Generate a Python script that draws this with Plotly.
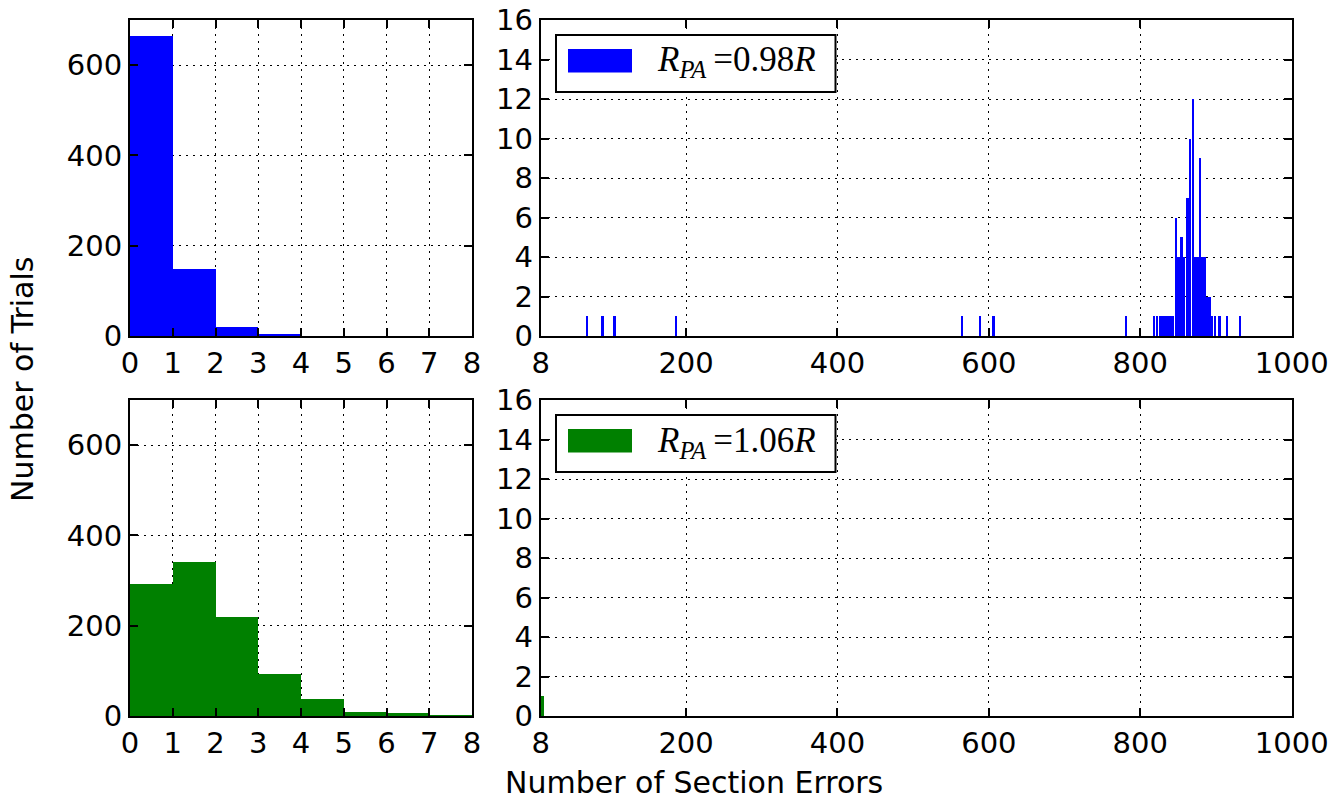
import plotly.graph_objects as go

W, H = 1338, 802

# ---------------- data ----------------
low_bin_edges = [0, 1, 2, 3, 4, 5, 6, 7]
low_counts_098 = [665, 149, 19, 3, 0, 0, 0, 0]
low_counts_106 = [292, 342, 219, 94, 38, 9, 6, 1]

high_centers_098 = [69, 89, 105, 186, 564, 588, 606, 781,
                    818, 822, 826, 830, 834, 838, 842,
                    846.5, 850, 854, 857.5, 862, 865.5, 869, 872.5,
                    875.5, 878.5, 882, 885, 888, 891, 894,
                    898, 904, 914, 931]
high_counts_098 = [1, 1, 1, 1, 1, 1, 1, 1,
                   1, 1, 1, 1, 1, 1, 1,
                   6, 4, 5, 4, 7, 10, 12, 4,
                   4, 9, 4, 4, 2, 2, 1,
                   1, 1, 1, 1]
high_centers_106 = [9.65]
high_counts_106 = [1]
high_bin_width = 3.3

low_ticks = [0, 1, 2, 3, 4, 5, 6, 7, 8]
low_yticks = [0, 200, 400, 600]
high_xticks = [8, 200, 400, 600, 800, 1000]
high_yticks = [0, 2, 4, 6, 8, 10, 12, 14, 16]

legend_labels = ["<i>R</i><sub><i>PA</i></sub>\u2009=0.98<i>R</i>",
                 "<i>R</i><sub><i>PA</i></sub>\u2009=1.06<i>R</i>"]

BLUE = "#0000ff"
GREEN = "#008000"

# ---------------- layout helpers (pixel -> paper) ----------------
def px(x):
    return x / W

def py(y):
    return 1 - y / H

xdom_left = [px(130), px(472)]
xdom_right = [px(540.7), px(1291.7)]
ydom_top = [py(336), py(20)]
ydom_bot = [py(716), py(400)]

fig = go.Figure()

fig.add_trace(go.Bar(x=[e + 0.5 for e in low_bin_edges], y=low_counts_098, width=1,
                     marker=dict(color=BLUE, line=dict(width=0)),
                     xaxis="x", yaxis="y", showlegend=False))
fig.add_trace(go.Bar(x=high_centers_098, y=high_counts_098, width=high_bin_width,
                     marker=dict(color=BLUE, line=dict(width=0)),
                     xaxis="x2", yaxis="y2", showlegend=False))
fig.add_trace(go.Bar(x=[e + 0.5 for e in low_bin_edges], y=low_counts_106, width=1,
                     marker=dict(color=GREEN, line=dict(width=0)),
                     xaxis="x3", yaxis="y3", showlegend=False))
fig.add_trace(go.Bar(x=high_centers_106, y=high_counts_106, width=high_bin_width,
                     marker=dict(color=GREEN, line=dict(width=0)),
                     xaxis="x4", yaxis="y4", showlegend=False))

tickfont = dict(family="DejaVu Sans", size=29, color="black")
common = dict(showline=True, linecolor="black", linewidth=2, mirror="ticks",
              ticks="inside", ticklen=8, tickwidth=1.5, tickcolor="black",
              showgrid=True, gridcolor="black", gridwidth=1, griddash="2px,5px",
              zeroline=False, tickfont=tickfont, layer="above traces",
              automargin=False)

fig.update_layout(
    width=W, height=H,
    margin=dict(l=0, r=0, t=0, b=0, pad=0, autoexpand=False),
    paper_bgcolor="white", plot_bgcolor="white",
    bargap=0,
    xaxis=dict(domain=xdom_left, anchor="y", range=[0, 8], tickvals=low_ticks, **common),
    yaxis=dict(domain=ydom_top, anchor="x", range=[0, 700], tickvals=low_yticks, **common),
    xaxis2=dict(domain=xdom_right, anchor="y2", range=[8, 1000], tickvals=high_xticks, **common),
    yaxis2=dict(domain=ydom_top, anchor="x2", range=[0, 16], tickvals=high_yticks, **common),
    xaxis3=dict(domain=xdom_left, anchor="y3", range=[0, 8], tickvals=low_ticks, **common),
    yaxis3=dict(domain=ydom_bot, anchor="x3", range=[0, 700], tickvals=low_yticks, **common),
    xaxis4=dict(domain=xdom_right, anchor="y4", range=[8, 1000], tickvals=high_xticks, **common),
    yaxis4=dict(domain=ydom_bot, anchor="x4", range=[0, 16], tickvals=high_yticks, **common),
)

shapes = []
annotations = []
for top, color, label in [(20, BLUE, legend_labels[0]), (400, GREEN, legend_labels[1])]:
    shapes.append(dict(type="rect", xref="paper", yref="paper",
                       x0=px(556), x1=px(835.5), y0=py(top + 72), y1=py(top + 15),
                       line=dict(color="black", width=2), fillcolor="white", layer="above"))
    shapes.append(dict(type="rect", xref="paper", yref="paper",
                       x0=px(568), x1=px(632), y0=py(top + 52.5), y1=py(top + 29),
                       line=dict(width=0), fillcolor=color, layer="above"))
    annotations.append(dict(text=label, xref="paper", yref="paper",
                            x=px(655), y=py(top + 42), xanchor="left", yanchor="middle",
                            showarrow=False,
                            font=dict(family="Liberation Serif", size=35, color="black")))

annotations.append(dict(text="Number of Trials", xref="paper", yref="paper",
                        x=px(22), y=py(380), xanchor="center", yanchor="middle",
                        textangle=-90, showarrow=False,
                        font=dict(family="DejaVu Sans", size=30, color="black")))
annotations.append(dict(text="Number of Section Errors", xref="paper", yref="paper",
                        x=px(694), y=py(782), xanchor="center", yanchor="middle",
                        showarrow=False,
                        font=dict(family="DejaVu Sans", size=30, color="black")))

fig.update_layout(shapes=shapes, annotations=annotations)

fig.write_html("out.html")
